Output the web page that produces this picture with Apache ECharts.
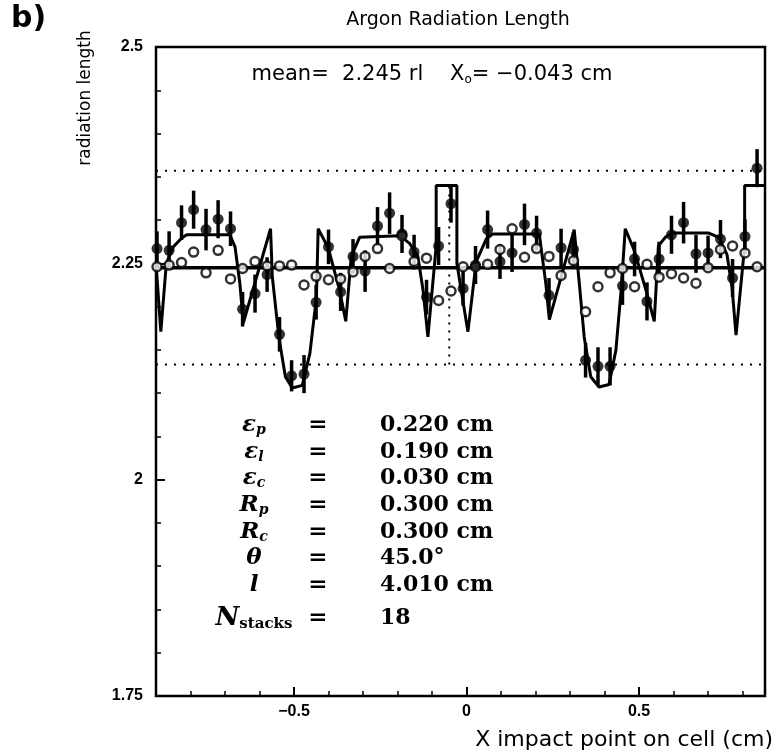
<!DOCTYPE html>
<html><head><meta charset="utf-8">
<script src="https://cdn.jsdelivr.net/npm/echarts@6/dist/echarts.min.js"></script>
<style>html,body{margin:0;padding:0;background:#fff}#c{width:776px;height:753px}</style>
</head><body><div id="c"></div>
<script>
// ---- data ----
const binX = [-0.897,-0.862,-0.826,-0.791,-0.755,-0.720,-0.684,-0.649,-0.613,-0.578,
  -0.542,-0.507,-0.471,-0.436,-0.400,-0.365,-0.329,-0.294,-0.258,-0.223,
  -0.187,-0.152,-0.116,-0.081,-0.045,-0.010,0.026,0.061,0.097,0.132,
  0.168,0.203,0.239,0.274,0.310,0.345,0.381,0.416,0.452,0.487,
  0.523,0.558,0.594,0.629,0.665,0.700,0.736,0.771,0.807,0.842];
const filledY = [2.267,2.265,2.297,2.312,2.289,2.301,2.290,2.197,2.215,2.237,
  2.168,2.120,2.122,2.205,2.269,2.217,2.258,2.241,2.293,2.308,
  2.284,2.263,2.211,2.270,2.319,2.221,2.248,2.289,2.252,2.262,
  2.295,2.285,2.213,2.268,2.266,2.138,2.131,2.131,2.224,2.255,
  2.206,2.255,2.283,2.297,2.261,2.262,2.278,2.233,2.281,2.360];
const filledErr = [0.020,0.022,0.020,0.022,0.024,0.022,0.020,0.020,0.022,0.020,
  0.020,0.018,0.022,0.020,0.020,0.022,0.020,0.024,0.022,0.024,
  0.022,0.020,0.020,0.022,0.022,0.020,0.022,0.022,0.020,0.022,
  0.024,0.020,0.020,0.022,0.020,0.020,0.022,0.022,0.022,0.020,
  0.022,0.020,0.022,0.024,0.022,0.020,0.022,0.022,0.020,0.022];
const openY = [2.246,2.248,2.251,2.263,2.239,2.265,2.232,2.244,2.252,2.247,
  2.247,2.248,2.225,2.235,2.231,2.232,2.240,2.258,2.267,2.244,
  2.282,2.252,2.256,2.207,2.218,2.246,2.246,2.249,2.266,2.290,
  2.257,2.267,2.258,2.236,2.253,2.194,2.223,2.239,2.244,2.223,
  2.249,2.234,2.238,2.233,2.227,2.245,2.266,2.270,2.262,2.246];
const fitX = [-0.900,-0.886,-0.870,-0.850,-0.826,-0.811,-0.686,-0.671,-0.657,-0.647,
  -0.568,-0.563,-0.544,-0.525,-0.505,-0.476,-0.454,-0.435,-0.430,-0.401,
  -0.368,-0.350,-0.334,-0.310,-0.194,-0.165,-0.141,-0.126,-0.112,-0.088,
  -0.088,-0.028,-0.028,0.004,0.028,0.057,0.076,0.211,0.216,0.230,
  0.240,0.312,0.327,0.341,0.360,0.384,0.413,0.433,0.448,0.460,
  0.486,0.520,0.544,0.556,0.576,0.595,0.702,0.731,0.755,0.770,
  0.781,0.806,0.806,0.865];
const fitY = [2.250,2.171,2.250,2.269,2.279,2.283,2.283,2.269,2.227,2.181,
  2.290,2.235,2.165,2.119,2.106,2.109,2.146,2.211,2.290,2.268,
  2.219,2.183,2.258,2.280,2.282,2.273,2.258,2.219,2.165,2.270,
  2.340,2.340,2.250,2.171,2.252,2.278,2.284,2.284,2.268,2.226,
  2.185,2.289,2.226,2.165,2.119,2.107,2.110,2.150,2.219,2.290,
  2.265,2.219,2.183,2.270,2.280,2.285,2.285,2.280,2.260,2.220,
  2.167,2.270,2.340,2.340];
const meanValue = 2.245;
const bandLow = 2.133, bandHigh = 2.357;
const x0Line = -0.05;
const xRange = [-0.9, 0.865];
const yRange = [1.75, 2.5];
const xMajorTicks = [-0.5, 0, 0.5];
const xMinorTicks = [-0.8,-0.7,-0.6,-0.4,-0.3,-0.2,-0.1,0.1,0.2,0.3,0.4,0.6,0.7,0.8];
const paramSymbols = ['{s|ε}{sub|p}','{s|ε}{sub|l}','{s|ε}{sub|c}','{s|R}{sub|p}','{s|R}{sub|c}','{s|θ}','{s|l}','{big|N}{subb|stacks}'];
const paramValues = ['0.220 cm','0.190 cm','0.030 cm','0.300 cm','0.300 cm','45.0°','4.010 cm','18'];

// ---- chart ----
const chart = echarts.init(document.getElementById('c'), null, {renderer:'canvas'});
const SANS = '"DejaVu Sans"';
const SERIF = '"DejaVu Serif"';
const filledPts = binX.map((x,i)=>[x, filledY[i], filledErr[i]]);
const openPts = binX.map((x,i)=>[x, openY[i]]);
const fitPts = fitX.map((x,i)=>[x, fitY[i]]);
const blk = '#000';

const graphics = [
  {type:'text', left:11, top:4, style:{text:'b)', font:'bold 30px '+SANS, fill:blk}},
  {type:'text', x:458, y:20, style:{text:'Argon Radiation Length', font:'19px '+SANS, fill:blk, align:'center', verticalAlign:'middle'}},
  {type:'text', x:86, y:98, rotation:Math.PI/2, style:{text:'radiation length', font:'17px '+SANS, fill:blk, align:'center', verticalAlign:'middle'}},
  {type:'text', x:773, y:740, style:{text:'X impact point on cell (cm)', font:'22px '+SANS, fill:blk, align:'right', verticalAlign:'middle'}},
  {type:'text', x:432, y:75, style:{text:'mean=  2.245 rl    X{sub|o}= −0.043 cm', font:'21px '+SANS, fill:blk, align:'center', verticalAlign:'middle',
     rich:{sub:{font:'12px '+SANS, fill:blk, verticalAlign:'bottom', padding:[10,0,0,0]}}}}
];
const rowY = [425,452,478,505,532,558,585,618];
paramSymbols.forEach((t,i)=>{
  graphics.push({type:'text', x:254, y:rowY[i], style:{text:t, align:'center', verticalAlign:'middle', fill:blk,
    rich:{s:{font:'italic bold 23px '+SERIF, fill:blk}, sub:{font:'italic bold 14px '+SERIF, fill:blk, padding:[10,0,0,0]},
          big:{font:'italic bold 26px '+SERIF, fill:blk}, subb:{font:'bold 15px '+SERIF, fill:blk, padding:[12,0,0,0]}}}});
  graphics.push({type:'text', x:318, y:rowY[i], style:{text:'=', font:'bold 23px '+SERIF, fill:blk, align:'center', verticalAlign:'middle'}});
  graphics.push({type:'text', x:380, y:rowY[i], style:{text:paramValues[i], font:'bold 22px '+SERIF, fill:blk, align:'left', verticalAlign:'middle'}});
});

const option = {
  animation:false,
  backgroundColor:'#fff',
  grid:{left:156, top:47, width:609, height:649, show:true, borderColor:blk, borderWidth:2.5, backgroundColor:'transparent'},
  xAxis:[
    {type:'value', min:xRange[0], max:xRange[1], position:'bottom',
     axisLine:{show:false, onZero:false}, splitLine:{show:false},
     axisTick:{show:true, inside:true, length:9, lineStyle:{color:blk, width:2}, customValues:xMajorTicks},
     axisLabel:{show:true, customValues:xMajorTicks, color:blk, fontSize:16, fontWeight:'bold', fontFamily:'Liberation Sans', margin:8,
       formatter:v=> v===0?'0':(v<0?'−'+Math.abs(v):String(v))}},
    {type:'value', min:xRange[0], max:xRange[1], position:'bottom',
     axisLine:{show:false, onZero:false}, splitLine:{show:false}, axisLabel:{show:false},
     axisTick:{show:true, inside:true, length:5, lineStyle:{color:blk, width:1.5}, customValues:xMinorTicks}}
  ],
  yAxis:{type:'value', min:yRange[0], max:yRange[1], interval:0.25,
    axisLine:{show:false, onZero:false}, splitLine:{show:false},
    axisTick:{show:true, inside:true, length:9, lineStyle:{color:blk, width:2}},
    minorTick:{show:true, splitNumber:5, length:5, lineStyle:{color:blk, width:1.5}},
    axisLabel:{color:blk, fontSize:16, fontWeight:'bold', fontFamily:'Liberation Sans', margin:13}},
  graphic:graphics,
  series:[
    {type:'line', name:'band high', data:[[xRange[0],bandHigh],[xRange[1],bandHigh]], symbol:'none', silent:true,
      lineStyle:{color:blk, width:2, type:[2,7]}},
    {type:'line', name:'band low', data:[[xRange[0],bandLow],[xRange[1],bandLow]], symbol:'none', silent:true,
      lineStyle:{color:blk, width:2, type:[2,7]}},
    {type:'line', name:'x0', data:[[x0Line,bandLow],[x0Line,2.344]], symbol:'none', silent:true,
      lineStyle:{color:blk, width:2, type:[2,6]}},
    {type:'line', name:'mean', data:[[xRange[0],meanValue],[xRange[1],meanValue]], symbol:'none', silent:true,
      lineStyle:{color:blk, width:3.5}},
    {type:'line', name:'fit', data:fitPts, symbol:'none', silent:true, lineStyle:{color:blk, width:3}},
    {type:'custom', name:'errors', data:filledPts, renderItem:(params, api)=>{
        const x = api.value(0), y = api.value(1), e = api.value(2);
        const p1 = api.coord([x, y-e]), p2 = api.coord([x, y+e]);
        return {type:'line', shape:{x1:p1[0], y1:p1[1], x2:p2[0], y2:p2[1]}, style:{stroke:blk, lineWidth:3.5}};
      }},
    {type:'scatter', name:'open', data:openPts, symbol:'circle', symbolSize:9,
      itemStyle:{color:'#fff', borderColor:blk, borderWidth:2.5}, z:3},
    {type:'scatter', name:'filled', data:filledPts, symbol:'circle', symbolSize:11,
      itemStyle:{color:blk}, z:4}
  ]
};
chart.setOption(option);
</script>
</body></html>
